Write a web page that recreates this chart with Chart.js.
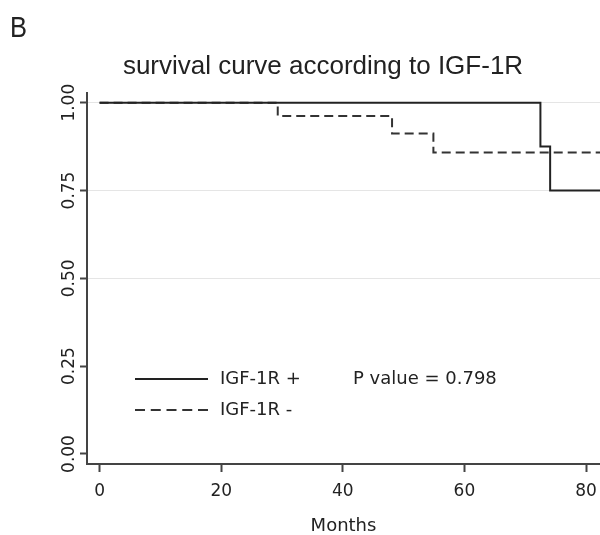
<!DOCTYPE html>
<html>
<head>
<meta charset="utf-8">
<script src="https://cdn.jsdelivr.net/npm/chart.js@4/dist/chart.umd.min.js"></script>
<style>
html,body{margin:0;padding:0;background:#fff;}
#wrap{position:relative;width:600px;height:535px;overflow:hidden;}
#panel{position:absolute;left:10px;top:10px;font:30px "Liberation Sans Narrow","Liberation Sans",sans-serif;color:#222;transform:scaleX(0.85);transform-origin:left top;}
</style>
</head>
<body>
<div id="wrap">
<canvas id="kmChart" width="600" height="535"></canvas>
<div id="panel">B</div>
</div>
<script>
// survival curve data

const posMonths = [0, 72.5, 74.1, 86]
const posSurvival = [1, 0.875, 0.75, 0.75]

const negMonths = [0, 29.3, 48.1, 54.9, 86]
const negSurvival = [1, 0.962, 0.912, 0.858, 0.858]

const xTicks = [0, 20, 40, 60, 80]
const yTicks = [0, 0.25, 0.5, 0.75, 1]

const seriesNames = ["IGF-1R +", "IGF-1R -"]
const pValueText = "P value = 0.798"

const lineColor = "#333"
const dashPattern = [9, 5]

function toPoints(xs, ys){
return xs.map((x, i) => ({x: x, y: ys[i]}))
}

// legend drawn inside the plot

const insideLegend = {
id: "insideLegend",
afterDatasetsDraw(chart){
const ctx = chart.ctx
const rows = [379, 410]
ctx.save()
chart.data.datasets.forEach((ds, i) => {
const y = rows[i]
ctx.strokeStyle = ds.borderColor
ctx.lineWidth = ds.borderWidth
ctx.setLineDash(ds.borderDash ? [10, 5.75] : [])
ctx.beginPath()
ctx.moveTo(135, y)
ctx.lineTo(208, y)
ctx.stroke()
ctx.setLineDash([])
ctx.fillStyle = "#222"
ctx.font = "18px 'DejaVu Sans'"
ctx.textBaseline = "middle"
ctx.fillText(seriesNames[i], 220, y)
})
ctx.fillText(pValueText, 353, rows[0])
ctx.restore()
}
}

new Chart(document.getElementById("kmChart"), {
type: "line",
data: {
datasets: [
{
label: seriesNames[0],
data: toPoints(posMonths, posSurvival),
stepped: true,
borderColor: "#222",
borderWidth: 2,
pointRadius: 0,
fill: false
},
{
label: seriesNames[1],
data: toPoints(negMonths, negSurvival),
stepped: true,
borderColor: lineColor,
borderWidth: 2,
borderDash: dashPattern,
pointRadius: 0,
fill: false
}
]
},
options: {
responsive: false,
animation: false,
events: [],
layout: {padding: {left: 46, right: 0, top: 0, bottom: 0}},
plugins: {
legend: {display: false},
tooltip: {enabled: false},
title: {
display: true,
text: "survival curve according to IGF-1R",
color: "#222",
font: {family: "'Liberation Sans', Arial, sans-serif", size: 26, weight: "normal", lineHeight: 1.2},
padding: {top: 51, bottom: 11}
}
},
scales: {
x: {
type: "linear",
min: -2.07,
max: 82.3,
afterBuildTicks: s => { s.ticks = xTicks.map(v => ({value: v})) },
afterFit: s => { s.height = 71; s.paddingLeft = 0; s.paddingRight = 0 },
border: {display: true, color: "#444", width: 2},
grid: {drawOnChartArea: false, tickLength: 8, tickColor: "#444", tickWidth: 2},
ticks: {color: "#222", font: {family: "'DejaVu Sans'", size: 17}, padding: 9, maxRotation: 0},
title: {display: true, text: "Months", color: "#222", font: {family: "'DejaVu Sans'", size: 18, lineHeight: 1}, padding: {top: 0, bottom: 0}}
},
y: {
type: "linear",
min: -0.0285,
max: 1.027,
afterBuildTicks: s => { s.ticks = yTicks.map(v => ({value: v})) },
afterFit: s => { s.width = 41; s.paddingTop = 0; s.paddingBottom = 0 },
border: {display: true, color: "#444", width: 2},
grid: {
color: c => (c.tick && c.tick.value >= 0.5) ? "#e5e5e5" : "rgba(0,0,0,0)",
tickColor: "#444",
tickLength: 7,
tickWidth: 2
},
ticks: {
color: "#222",
font: {family: "'DejaVu Sans'", size: 17},
minRotation: 90,
maxRotation: 90,
crossAlign: "center",
padding: -9,
callback: v => v.toFixed(2)
}
}
}
},
plugins: [insideLegend]
})
</script>
</body>
</html>
